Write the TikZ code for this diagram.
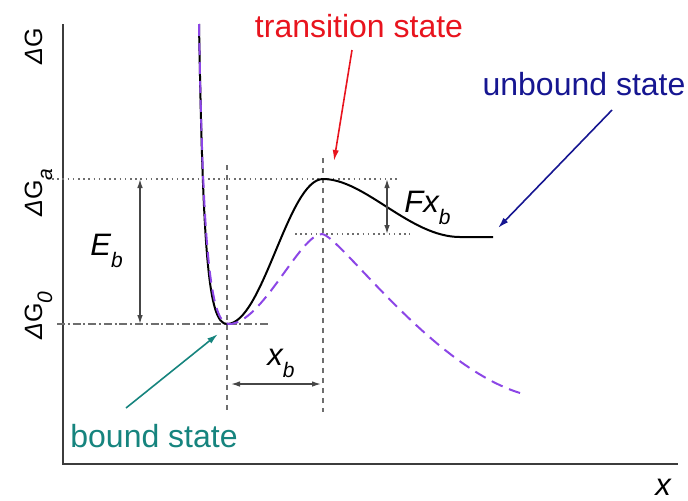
\documentclass[tikz,border=0pt]{standalone}
\usepackage{fontspec}
\setmainfont{Liberation Sans}
\usetikzlibrary{arrows.meta}
\definecolor{tsred}{RGB}{232,20,30}
\definecolor{ubnavy}{RGB}{22,22,145}
\definecolor{bsteal}{RGB}{22,132,126}
\definecolor{curvepurple}{RGB}{140,70,230}
\definecolor{guide}{RGB}{110,110,110}
\newcommand\lowsub[2]{\raisebox{#2}{\fontsize{10.5}{12}\selectfont\itshape #1}}
\tikzset{
  axisline/.style={line width=1pt, draw={rgb,255:red,60;green,60;blue,60}},
  dotline/.style={guide, line width=0.75pt, dash pattern=on 0.8pt off 1.8pt},
  dashdotline/.style={guide, line width=0.75pt, dash pattern=on 4pt off 1.4pt on 1pt off 1.4pt},
  vdash/.style={guide, line width=0.8pt, dash pattern=on 2.6pt off 2.4pt},
  dimarrow/.style={{Latex[length=4.5pt,width=2.8pt]}-{Latex[length=4.5pt,width=2.8pt]}, line width=0.7pt, draw={rgb,255:red,70;green,70;blue,70}},
  ptarrow/.style={-{Latex[length=5.5pt,width=3.2pt]}, line width=0.8pt},
  statelabel/.style={font=\fontsize{16}{19}\selectfont, inner sep=0pt, anchor=base},
  symlabel/.style={font=\fontsize{15.5}{18}\selectfont\itshape, inner sep=0pt, anchor=base west},
  axislabel/.style={font=\fontsize{12.5}{15}\selectfont, inner sep=0pt, rotate=90, anchor=base west},
}
\begin{document}
\begin{tikzpicture}[x=0.5pt,y=-0.5pt]
\useasboundingbox (0,0) rectangle (688,500);
% axes
\coordinate (ytop) at (63,24);
\coordinate (orig) at (63,464);
\coordinate (xend) at (678,464);
\draw[axisline] (ytop) -- (orig) -- (xend);
% guide lines
\coordinate (gaL) at (52,179); \coordinate (gaR) at (400,179);
\coordinate (g0L) at (57,324); \coordinate (g0R) at (268,324);
\coordinate (gfL) at (295,234); \coordinate (gfR) at (410,234);
\coordinate (v1t) at (227,165); \coordinate (v1b) at (227,412);
\coordinate (v2t) at (323,158); \coordinate (v2b) at (323,412);
\draw[dotline] (gaL) -- (gaR);
\draw[dotline] (gfL) -- (gfR);
\draw[dashdotline] (g0L) -- (g0R);
\draw[vdash] (v1t) -- (v1b);
\draw[vdash] (v2t) -- (v2b);
% curves
\coordinate (wallTop) at (199,24);
\coordinate (minB) at (227,324);
\coordinate (peakB) at (323,179);
\coordinate (platB) at (460,237);
\coordinate (endB) at (493,237);
\draw[line width=1pt, black, line join=round]
  (wallTop) .. controls (203,250) and (208,324) .. (minB)
  .. controls (263,324) and (288,179) .. (peakB)
  .. controls (365,179) and (410,237) .. (platB) -- (endB);
\coordinate (minP) at (229,324);
\coordinate (peakP) at (322,234);
\coordinate (endP) at (520,393);
\draw[line width=1pt, curvepurple, dash pattern=on 6pt off 3.5pt]
  (wallTop) .. controls (203,250) and (210,324) .. (minP)
  .. controls (262,324) and (300,234) .. (peakP)
  .. controls (340,236) and (430,365) .. (endP);
% dimension arrows
\coordinate (ebT) at (140,179); \coordinate (ebB) at (140,324);
\draw[dimarrow] (ebT) -- (ebB);
\coordinate (fxT) at (387,179); \coordinate (fxB) at (387,234);
\draw[dimarrow] (fxT) -- (fxB);
\coordinate (xbL) at (231,384); \coordinate (xbR) at (321,384);
\draw[dimarrow] (xbL) -- (xbR);
% symbol labels
\node[symlabel] (Eb) at (90,255) {E\lowsub{b}{-6pt}};
\node[symlabel] (Fxb) at (404,212) {Fx\lowsub{b}{-6pt}};
\node[symlabel] (xb) at (267,365) {x\lowsub{b}{-6pt}};
\node[symlabel] (xax) at (655,495) {x};
% axis labels
\node[axislabel] (dG) at (42,65) {\textit{Δ}G};
\node[axislabel] (dGa) at (42,217) {\textit{Δ}G\lowsub{a}{-5pt}};
\node[axislabel] (dG0) at (42,340) {\textit{Δ}G\lowsub{0}{-5pt}};
% state labels and pointers
\node[statelabel, text=tsred] (ts) at (359,37) {transition state};
\coordinate (tsA) at (352,50); \coordinate (tsB) at (334,161);
\draw[ptarrow, tsred] (tsA) -- (tsB);
\node[statelabel, text=ubnavy] (ub) at (584,95) {unbound state};
\coordinate (ubA) at (612,110); \coordinate (ubB) at (498,228);
\draw[ptarrow, ubnavy] (ubA) -- (ubB);
\node[statelabel, text=bsteal] (bs) at (154,447) {bound state};
\coordinate (bsA) at (126,408); \coordinate (bsB) at (218,334);
\draw[ptarrow, bsteal] (bsA) -- (bsB);
\end{tikzpicture}
\end{document}
